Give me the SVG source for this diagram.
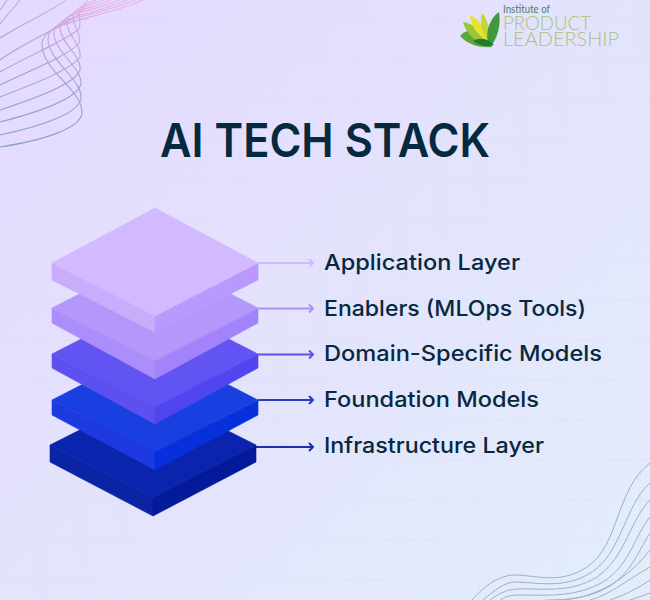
<svg xmlns="http://www.w3.org/2000/svg" width="650" height="600" viewBox="0 0 650 600">
<style>
.grid{stroke:#d9d4f5;stroke-width:1;opacity:.35;fill:none}
.c1{fill:none;stroke:url(#wave1);stroke-width:1.1}
.c2{fill:none;stroke:#9fb0c2;stroke-width:1}
.lbl{font-family:"Inter","Noto Sans","Liberation Sans",sans-serif;font-weight:500;font-size:21.5px;fill:#07293f}
.title{font-family:"Inter","Noto Sans","Liberation Sans",sans-serif;font-weight:600;font-size:47px;fill:#05293f}
.lg{font-family:"Lato","Open Sans","Liberation Sans",sans-serif;font-weight:300;fill:#a9c27c}
.conn{fill:none;stroke-width:2}
.f{stroke-width:.6;stroke-linejoin:round}
</style>
<defs>
<linearGradient id="bg" x1="0" y1="0" x2="1" y2="1"><stop offset="0" stop-color="#e4d9ff"/><stop offset="1" stop-color="#e3eefa"/></linearGradient>
<linearGradient id="wave1" gradientUnits="userSpaceOnUse" x1="110" y1="0" x2="40" y2="150"><stop offset="0" stop-color="#efb2ea"/><stop offset=".5" stop-color="#ac9ed4"/><stop offset="1" stop-color="#86a0c8"/></linearGradient>
<marker id="a1" viewBox="0 0 10 10" refX="9" refY="5" markerWidth="10" markerHeight="10" markerUnits="userSpaceOnUse" orient="auto"><path d="M5 1L9 5L5 9" fill="none" stroke="#d3b9ff" stroke-width="2"/></marker>
<marker id="a2" viewBox="0 0 10 10" refX="9" refY="5" markerWidth="10" markerHeight="10" markerUnits="userSpaceOnUse" orient="auto"><path d="M5 1L9 5L5 9" fill="none" stroke="#ab8ff8" stroke-width="2"/></marker>
<marker id="a3" viewBox="0 0 10 10" refX="9" refY="5" markerWidth="10" markerHeight="10" markerUnits="userSpaceOnUse" orient="auto"><path d="M5 1L9 5L5 9" fill="none" stroke="#5c50e6" stroke-width="2"/></marker>
<marker id="a4" viewBox="0 0 10 10" refX="9" refY="5" markerWidth="10" markerHeight="10" markerUnits="userSpaceOnUse" orient="auto"><path d="M5 1L9 5L5 9" fill="none" stroke="#2a3cc8" stroke-width="2"/></marker>
<marker id="a5" viewBox="0 0 10 10" refX="9" refY="5" markerWidth="10" markerHeight="10" markerUnits="userSpaceOnUse" orient="auto"><path d="M5 1L9 5L5 9" fill="none" stroke="#1c2fae" stroke-width="2"/></marker>
</defs>
<rect width="650" height="600" fill="url(#bg)"/>
<path class="grid" d="M40 0V600M80 0V600M120 0V600M160 0V600M200 0V600M240 0V600M280 0V600M320 0V600M360 0V600M400 0V600M440 0V600M480 0V600M520 0V600M560 0V600M600 0V600M640 0V600M0 20H650M0 60H650M0 100H650M0 140H650M0 180H650M0 220H650M0 260H650M0 300H650M0 340H650M0 380H650M0 420H650M0 460H650M0 500H650M0 540H650M0 580H650"/>
<g id="waves-top-left">
<path class="c1" d="M0 147C45 140 82 128 82 112C82 90 42 70 42 45C42 20 100 20 143 0"/>
<path class="c1" d="M0 135C42 126 80 113 81 98C82 79 48 61 48 39C48 17 98 17 135 0"/>
<path class="c1" d="M0 122C39 112 77 99 81 84C82 67 54 52 54 33C55 15 96 15 127 0"/>
<path class="c1" d="M0 110C36 98 75 84 80 70C82 56 60 43 60 27C61 12 94 12 119 0"/>
<path class="c1" d="M0 97C34 84 72 69 80 57C82 44 66 35 67 21C67 10 93 9 111 0"/>
<path class="c1" d="M0 85C31 70 70 55 79 43C82 33 72 26 73 15C74 7 91 6 104 0"/>
<path class="c1" d="M0 72C28 56 67 40 79 29C82 21 78 17 79 9C80 5 89 4 96 0"/>
<path class="c1" d="M0 60C25 42 65 25 78 15C82 10 84 8 85 3C86 2 87 1 88 0"/>
<path class="c1" d="M0 38C20 25 50 12 66 0"/>
<path class="c1" d="M0 24C6 16 14 8 20 0"/>
<path class="c1" d="M0 10C3 7 5 3 7 0"/>
</g>
<g id="waves-bottom-right">
<path class="c2" d="M472 600C485 585 500 575 515 575C535 575 560 585 587 567C620 545 615 490 650 463"/>
<path class="c2" d="M483 600C495 590 505 582 515 582C535 582 565 590 592 572C622 552 625 505 650 483"/>
<path class="c2" d="M490 600C498 594 506 590 516 589C540 588 570 594 597 577C625 558 630 520 650 500"/>
<path class="c2" d="M500 600C505 597 510 595 518 595C545 595 575 598 603 582C630 565 635 535 650 517"/>
<path class="c2" d="M545 600C570 600 590 598 610 586C632 572 640 548 650 533"/>
<path class="c2" d="M565 600C585 597 600 592 617 581C632 571 642 560 650 550"/>
<path class="c2" d="M590 600C610 595 630 578 650 567"/>
<path class="c2" d="M610 600C625 595 640 587 650 580"/>
<path class="c2" d="M630 600C637 598 645 595 650 593"/>
</g>
<g id="logo">
<path d="M460 36C465 30 474 29 481 33C486 37 490 42 492 47C482 48 469 46 460 36Z" fill="#5aa83c"/>
<path d="M463 22C472 23 483 30 489 43C478 43 467 37 463 22Z" fill="#9cc63a"/>
<path d="M470 15C478 18 486 28 490 43C480 37 471 28 470 15Z" fill="#e6e32c"/>
<path d="M482 13C488 20 491 32 490 44C483 36 479 24 482 13Z" fill="#c2d636"/>
<path d="M499 12C501 24 498 38 490 47C484 36 488 20 499 12Z" fill="#3f9a3c"/>
<path d="M473 41C480 37 488 38 494 45C486 47 480 46 473 41Z" fill="#1f7a35"/>
<text class="lg" x="503" y="13" font-size="10.500" style="fill:#4f7f5a;font-weight:400" textLength="47" lengthAdjust="spacingAndGlyphs">Institute of</text>
<text class="lg" x="503" y="30" font-size="20" textLength="88" lengthAdjust="spacingAndGlyphs">PRODUCT</text>
<text class="lg" x="503" y="46" font-size="20" textLength="116" lengthAdjust="spacingAndGlyphs">LEADERSHIP</text>
</g>
<text id="title" class="title" x="160" y="157" textLength="330" lengthAdjust="spacingAndGlyphs">AI TECH STACK</text>
<g id="connectors">
<path class="conn" stroke="#d3b9ff" marker-end="url(#a1)" d="M258 263H313"/>
<path class="conn" stroke="#ab8ff8" marker-end="url(#a2)" d="M258 308.500H313"/>
<path class="conn" stroke="#5c50e6" marker-end="url(#a3)" d="M258 354.500H313"/>
<path class="conn" stroke="#2a3cc8" marker-end="url(#a4)" d="M258 400H313"/>
<path class="conn" stroke="#1c2fae" marker-end="url(#a5)" d="M256 447H313"/>
</g>
<g id="layer-infrastructure">
<path class="f" d="M50 445L153 497V516L50 462Z" fill="#0a24a3" stroke="#0a24a3"/>
<path class="f" d="M256 445L153 497V516L256 462Z" fill="#031a99" stroke="#031a99"/>
<path class="f" d="M153 393L256 445L153 497L50 445Z" fill="#0a24ad" stroke="#0a24ad"/>
</g>
<g id="layer-foundation">
<path class="f" d="M52 400L155 452V470L52 415Z" fill="#1c3ae0" stroke="#1c3ae0"/>
<path class="f" d="M258 400L155 452V470L258 415Z" fill="#0530db" stroke="#0530db"/>
<path class="f" d="M155 347L258 400L155 452L52 400Z" fill="#1a3fe0" stroke="#1a3fe0"/>
</g>
<g id="layer-domain">
<path class="f" d="M52 354L155 407V424L52 368Z" fill="#5e50f0" stroke="#5e50f0"/>
<path class="f" d="M258 354L155 407V424L258 368Z" fill="#5045ee" stroke="#5045ee"/>
<path class="f" d="M155 301L258 354L155 407L52 354Z" fill="#6154f3" stroke="#6154f3"/>
</g>
<g id="layer-enablers">
<path class="f" d="M52 308L155 361V379L52 323Z" fill="#ab8efb" stroke="#ab8efb"/>
<path class="f" d="M258 308L155 361V379L258 323Z" fill="#a283fb" stroke="#a283fb"/>
<path class="f" d="M155 255L258 308L155 361L52 308Z" fill="#b497fb" stroke="#b497fb"/>
</g>
<g id="layer-application">
<path class="f" d="M52 263L155 316V332L52 280Z" fill="#c9adfd" stroke="#c9adfd"/>
<path class="f" d="M258 263L155 316V332L258 280Z" fill="#b99afc" stroke="#b99afc"/>
<path class="f" d="M155 208L258 263L155 316L52 263Z" fill="#d3b9ff" stroke="#d3b9ff"/>
</g>
<g id="labels">
<text class="lbl" x="324" y="270" textLength="196" lengthAdjust="spacingAndGlyphs">Application Layer</text>
<text class="lbl" x="324" y="316" textLength="262" lengthAdjust="spacingAndGlyphs">Enablers (MLOps Tools)</text>
<text class="lbl" x="324" y="361" textLength="278" lengthAdjust="spacingAndGlyphs">Domain-Specific Models</text>
<text class="lbl" x="324" y="407" textLength="215" lengthAdjust="spacingAndGlyphs">Foundation Models</text>
<text class="lbl" x="324" y="453" textLength="220" lengthAdjust="spacingAndGlyphs">Infrastructure Layer</text>
</g>
</svg>
